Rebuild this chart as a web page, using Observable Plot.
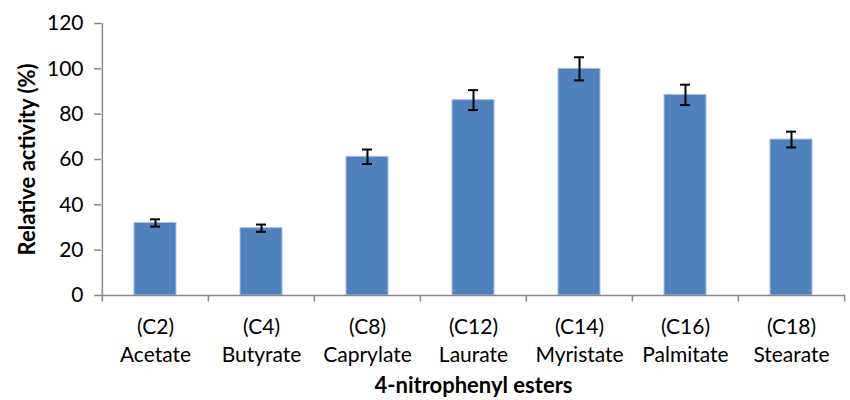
<!DOCTYPE html>
<html>
<head>
<meta charset="utf-8">
<script src="https://cdn.jsdelivr.net/npm/d3@7"></script>
<script src="https://cdn.jsdelivr.net/npm/@observablehq/plot@0.6"></script>
<style>
  html, body { margin: 0; padding: 0; background: #fff; }
  #chart { width: 850px; height: 400px; }
</style>
</head>
<body>
<div id="chart"></div>
<script>
const categories = ["Acetate", "Butyrate", "Caprylate", "Laurate", "Myristate", "Palmitate", "Stearate"];
const carbons = ["C2", "C4", "C8", "C12", "C14", "C16", "C18"];
const activity = [32.0, 29.7, 61.2, 86.2, 100.0, 88.5, 68.8];
const errors = [1.6, 1.6, 3.2, 4.4, 5.1, 4.5, 3.5];
const yTicks = [0, 20, 40, 60, 80, 100, 120];
const yLabel = "Relative activity (%)";
const xLabel = "4-nitrophenyl esters";

const data = categories.map((c, i) => ({
  name: c,
  carbon: carbons[i],
  value: activity[i],
  lo: activity[i] - errors[i],
  hi: activity[i] + errors[i]
}));
const carbonOf = new Map(categories.map((c, i) => [c, carbons[i]]));

const W = 850, H = 400, mL = 101, mR = 5, mT = 23, mB = 105;
const step = (W - mL - mR) / categories.length;
const gray = "#898989";
const font = "Lato, 'Open Sans', sans-serif";

const chart = Plot.plot({
  width: W,
  height: H,
  marginLeft: mL,
  marginRight: mR,
  marginTop: mT,
  marginBottom: mB,
  style: { fontFamily: font, background: "#fff", color: "#000" },
  x: { domain: categories, paddingInner: 0.6, paddingOuter: 0.3 },
  y: { domain: [0, 120] },
  marks: [
    Plot.barY(data, { x: "name", y: "value", fill: "#4F81BD", stroke: "#a9c1e3", strokeWidth: 1 }),
    Plot.ruleX(data, { x: "name", y1: "lo", y2: "hi", stroke: "#000", strokeWidth: 2 }),
    Plot.tickY(data, { x: "name", y: "lo", stroke: "#000", strokeWidth: 2, insetLeft: 16, insetRight: 16 }),
    Plot.tickY(data, { x: "name", y: "hi", stroke: "#000", strokeWidth: 2, insetLeft: 16, insetRight: 16 }),
    Plot.ruleY([0], { stroke: gray, strokeWidth: 1.5 }),
    Plot.ruleX([categories[0]], { x: d => d, dx: -step / 2, y1: -2.9, y2: 120, stroke: gray, strokeWidth: 1.5 }),
    Plot.ruleX(categories.slice(1), { x: d => d, dx: -step / 2, y1: -2.9, y2: 0, stroke: gray, strokeWidth: 1.5 }),
    Plot.ruleX([categories[categories.length - 1]], { x: d => d, dx: step / 2, y1: -2.9, y2: 0, stroke: gray, strokeWidth: 1.5 }),
    Plot.axisY({ ticks: yTicks, tickSize: 7, tickPadding: 11, stroke: gray, strokeWidth: 1.5, fill: "#000", fontSize: 21, label: null }),
    Plot.axisX({ tickSize: 0, tickPadding: 19, tickFormat: d => `(${carbonOf.get(d)})\n${d}`, fontSize: 21, lineHeight: 1.31, fill: "#000", label: null }),
    Plot.text([yLabel], { text: d => d, frameAnchor: "left", textAnchor: "middle", dx: -74, rotate: -90, fontSize: 22, fontWeight: "bold", fill: "#000" }),
    Plot.text([xLabel], { text: d => d, frameAnchor: "bottom", dy: 97, fontSize: 22, fontWeight: "bold", fill: "#000" })
  ]
});
document.getElementById("chart").appendChild(chart);
</script>
</body>
</html>
